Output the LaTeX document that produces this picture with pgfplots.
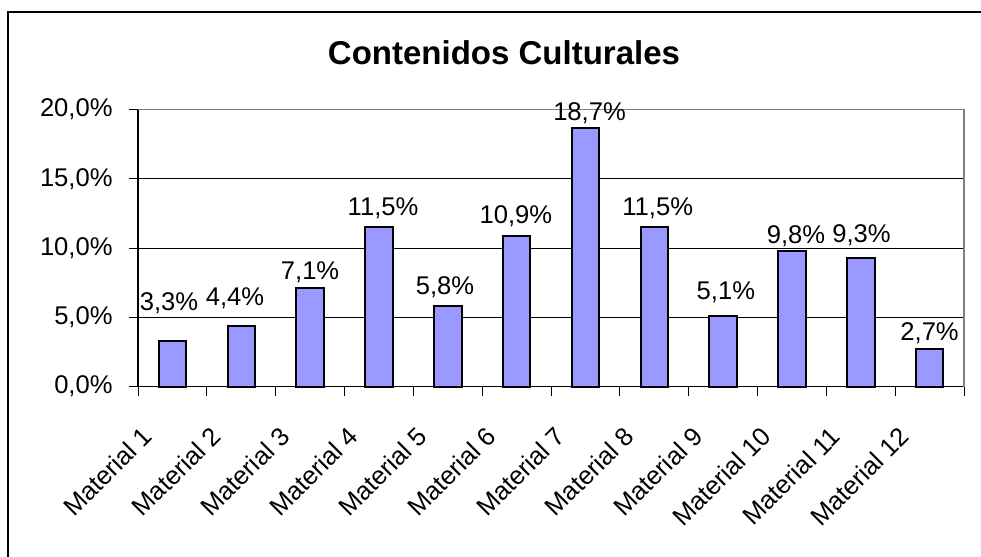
\documentclass[border=0pt]{standalone}
\usepackage{fontspec}
\setmainfont{Liberation Sans}
\usepackage{pgfplots}
\usepackage{pgfplotstable}
\pgfplotsset{compat=1.18}
\definecolor{barfill}{HTML}{9999FF}

\pgfplotstableread{
x y
1 3.3
2 4.4
3 7.1
4 11.5
5 5.8
6 10.9
7 18.7
8 11.5
9 5.1
10 9.8
11 9.3
12 2.7
}\bardata

\pgfplotstableread{
x y label
0.95 6.04 3,3\%
1.91 6.40 4,4\%
3.00 8.28 7,1\%
4.06 12.89 11,5\%
4.96 7.19 5,8\%
5.99 12.32 10,9\%
7.06 19.75 18,7\%
8.05 12.89 11,5\%
9.04 6.83 5,1\%
10.06 10.87 9,8\%
11.01 10.95 9,3\%
12.00 3.87 2,7\%
}\labeldata

\begin{document}
\begin{tikzpicture}
\useasboundingbox (0pt,0pt) rectangle (490.5pt,278.5pt);
\draw[line width=0.75pt] (4pt,0pt) -- (4pt,272.5pt) -- (490.5pt,272.5pt);
\node[font=\fontsize{16.5}{20}\selectfont\bfseries, anchor=base] at (252pt,246pt) {Contenidos Culturales};
\begin{axis}[
  at={(69pt,85.15pt)}, anchor=south west,
  width=413pt, height=138.6pt, scale only axis,
  xmin=0.5, xmax=12.5, ymin=0, ymax=20,
  axis lines*=left,
  axis line style={-, black, line width=0.6pt},
  clip=false,
  tick align=outside,
  major tick length=0pt,
  minor tick length=4.5pt,
  tick style={black, line width=0.5pt},
  xtick={1,...,12},
  xticklabels={Material 1,Material 2,Material 3,Material 4,Material 5,Material 6,Material 7,Material 8,Material 9,Material 10,Material 11,Material 12},
  minor xtick={0.5,1.5,...,12.5},
  ytick={0,5,...,20},
  minor ytick={0,5,...,20},
  yticklabels={{0,0\%},{5,0\%},{10,0\%},{15,0\%},{20,0\%}},
  ymajorgrids,
  grid style={black, line width=0.5pt},
  tick label style={font=\fontsize{12.8}{15}\selectfont},
  yticklabel style={inner sep=0pt, xshift=-12.5pt},
  xticklabel style={inner sep=0pt, xshift=-16pt, yshift=-19pt, rotate=45, anchor=north east},
]
\addplot[ybar, bar width=13.75pt, bar shift=0pt, fill=barfill, draw=black, line width=1pt] table[x=x,y=y]{\bardata};
\addplot[draw=none, mark=none, nodes near coords, point meta=explicit symbolic,
  nodes near coords align={center},
  every node near coord/.append style={font=\fontsize{12.8}{15}\selectfont, inner sep=0pt, anchor=center, text=black}]
  table[x=x,y=y,meta=label]{\labeldata};
\draw[gray, line width=0.75pt] (rel axis cs:0,1) -- (rel axis cs:1,1) -- (rel axis cs:1,0);
\end{axis}
\end{tikzpicture}
\end{document}
